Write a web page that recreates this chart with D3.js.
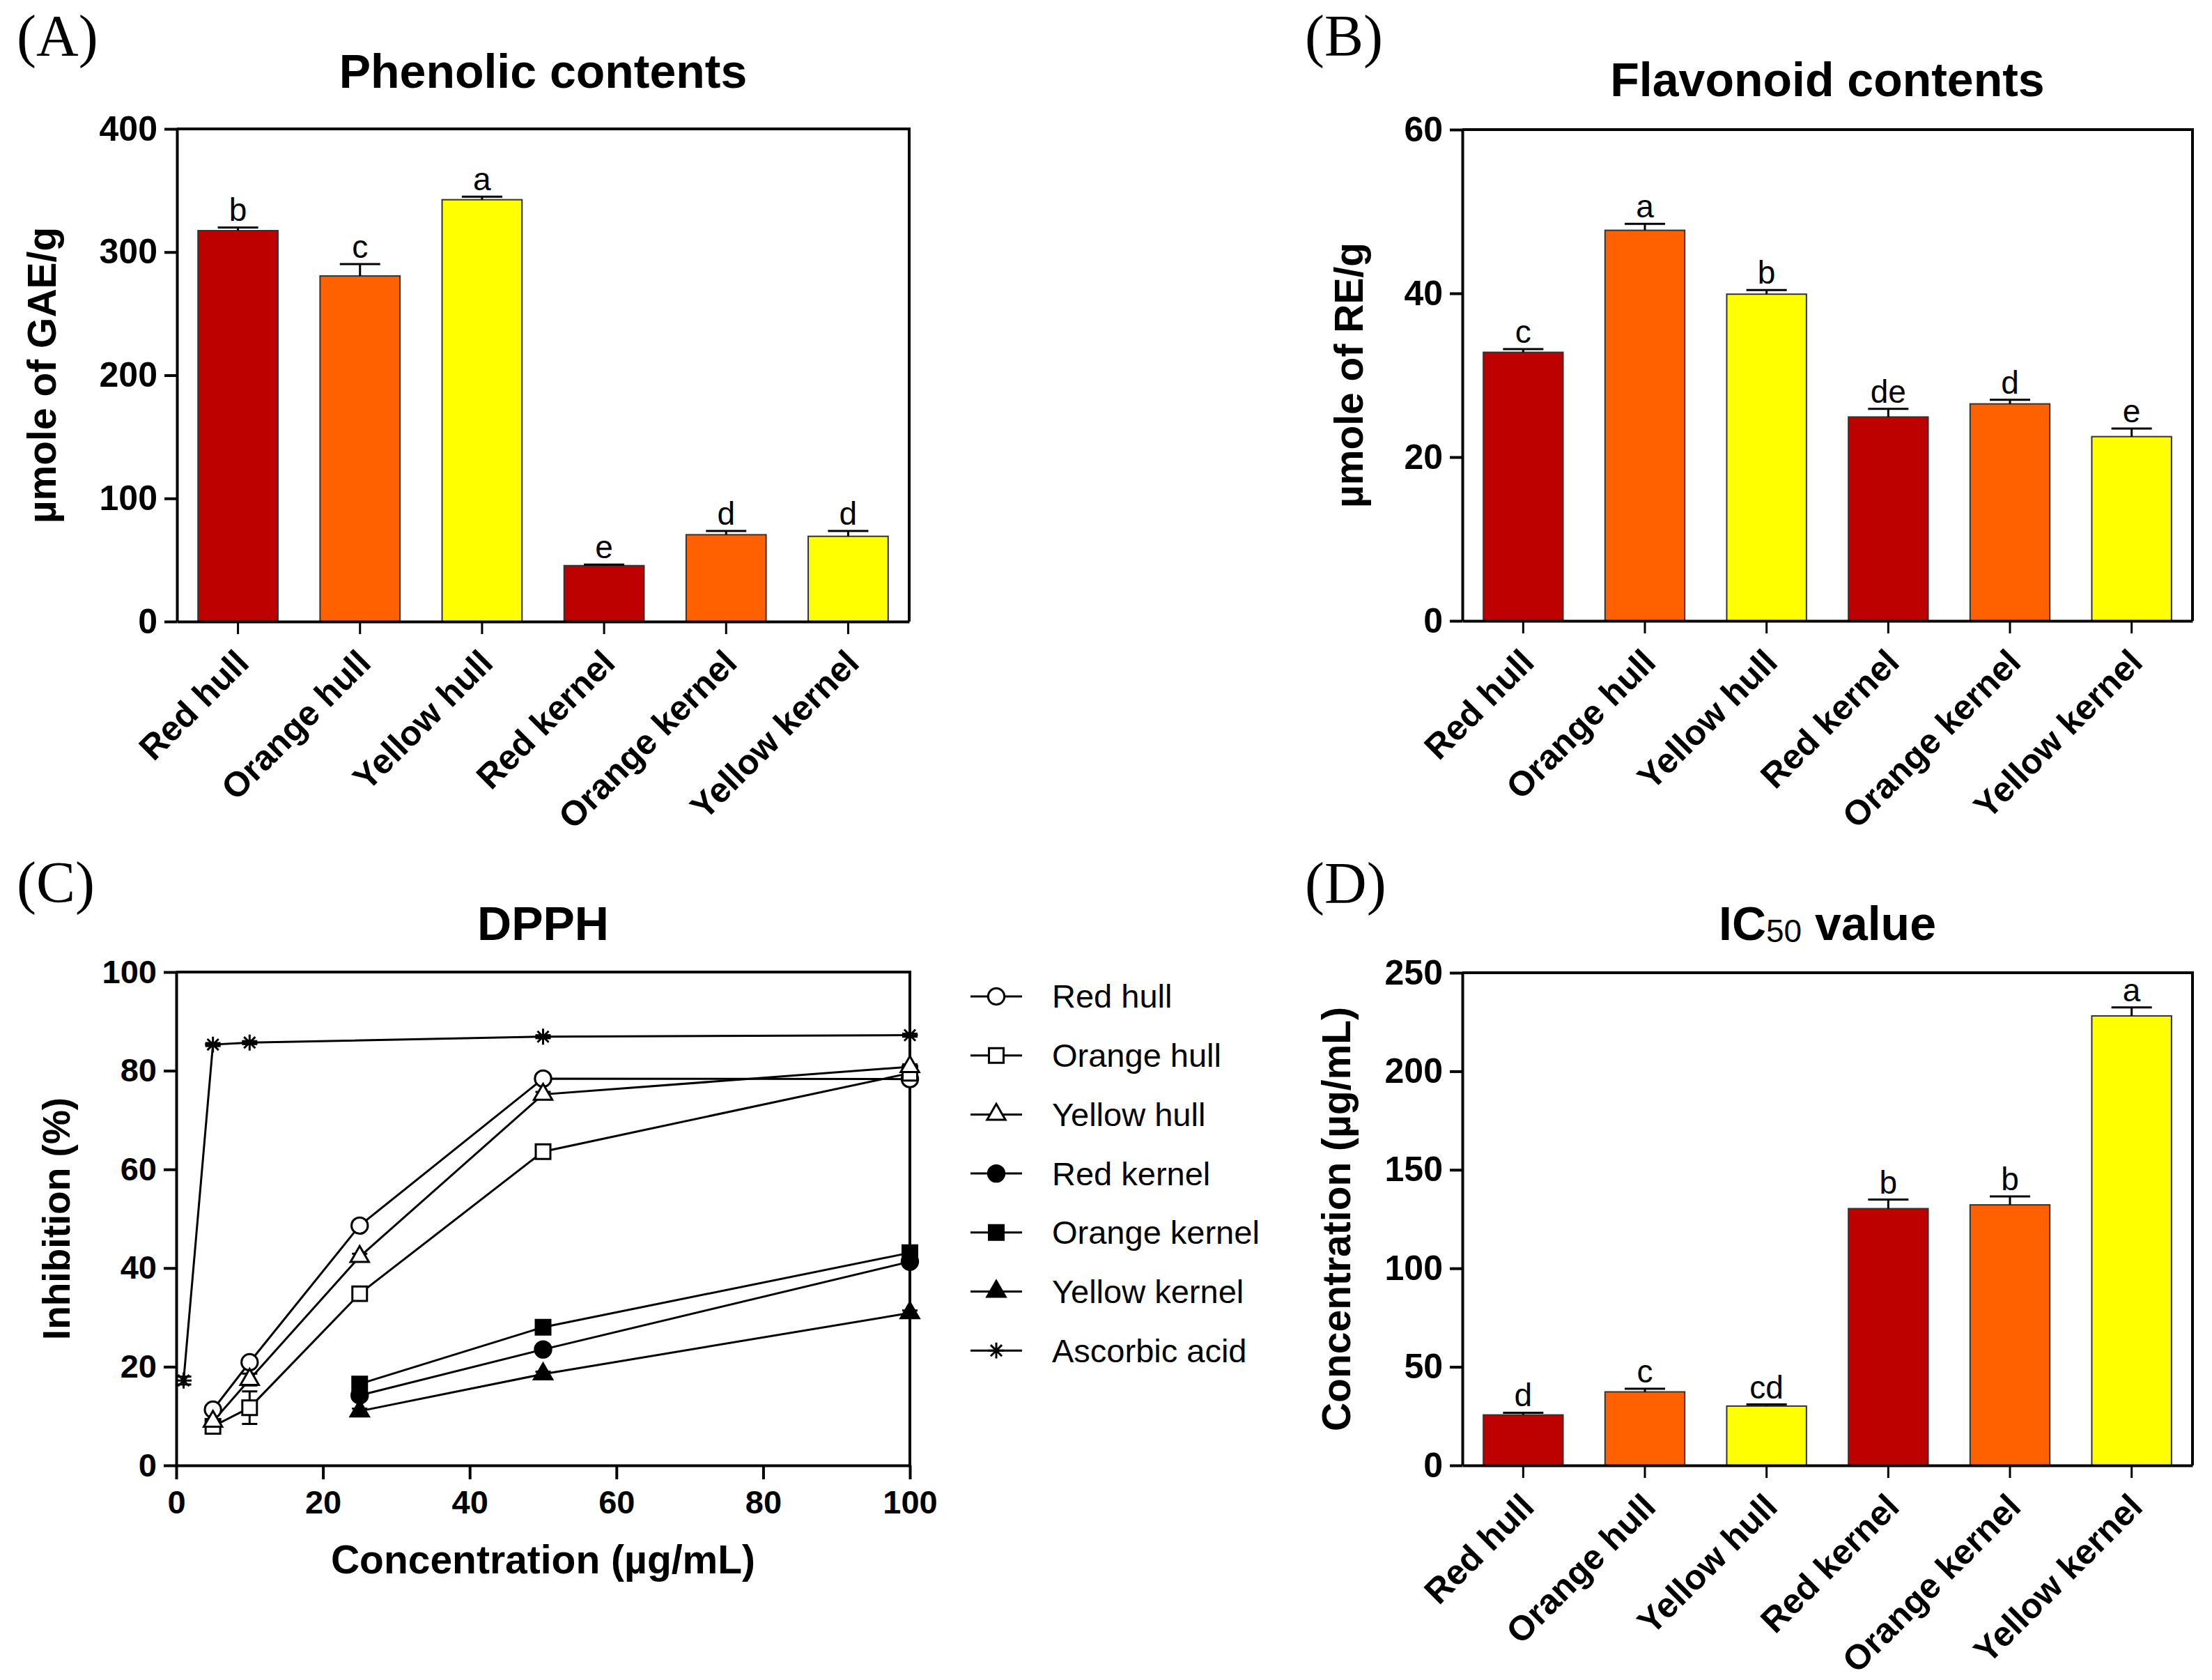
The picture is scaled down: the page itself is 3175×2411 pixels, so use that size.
<!DOCTYPE html>
<html>
<head>
<meta charset="utf-8">
<script src="https://cdn.jsdelivr.net/npm/d3@7"></script>
<style>
  body { margin: 0; background: #fff; }
  text { font-family: "Liberation Sans", Arial, sans-serif; fill: #000; }
</style>
</head>
<body>
<script>
    var width = 3175;
    var height = 2411;

    // bar charts (A), (B), (D)
    var categories = ['Red hull', 'Orange hull', 'Yellow hull', 'Red kernel', 'Orange kernel', 'Yellow kernel'];
    var barColors = ['#bd0000', '#ff6000', '#ffff00', '#bd0000', '#ff6000', '#ffff00'];

    var phenolic = [317.4, 280.6, 342.5, 45.4, 70.5, 69.2];
    var phenolicErr = [2.6, 9.6, 2.5, 0.9, 3.0, 4.3];
    var phenolicLetters = ['b', 'c', 'a', 'e', 'd', 'd'];
    var phenolicTicks = [0, 100, 200, 300, 400];

    var flavonoid = [32.8, 47.7, 39.9, 24.9, 26.5, 22.5];
    var flavonoidErr = [0.4, 0.8, 0.5, 1.0, 0.5, 1.0];
    var flavonoidLetters = ['c', 'a', 'b', 'de', 'd', 'e'];
    var flavonoidTicks = [0, 20, 40, 60];

    var ic50 = [25.6, 37.3, 30.1, 130.3, 132.2, 228.1];
    var ic50Err = [1.1, 1.6, 0.8, 4.6, 4.3, 4.3];
    var ic50Letters = ['d', 'c', 'cd', 'b', 'b', 'a'];
    var ic50Ticks = [0, 50, 100, 150, 200, 250];

    // DPPH line chart (C)
    var dpphSeries = ['Red hull', 'Orange hull', 'Yellow hull', 'Red kernel', 'Orange kernel', 'Yellow kernel', 'Ascorbic acid'];
    var hullConc = [5, 10, 25, 50, 100];
    var kernelConc = [25, 50, 100];
    var ascorbicConc = [1, 5, 10, 50, 100];
    var redHull = [11.3, 20.9, 48.6, 78.4, 78.3];
    var orangeHull = [7.9, 11.7, 34.8, 63.6, 79.5];
    var yellowHull = [8.9, 17.4, 42.3, 75.2, 80.8];
    var redKernel = [14.2, 23.5, 41.3];
    var orangeKernel = [16.5, 28.0, 43.1];
    var yellowKernel = [11.0, 18.5, 30.9];
    var ascorbic = [17.2, 85.3, 85.7, 86.9, 87.2];
    var redHullErr = [0.5, 0.6, 0.6, 0.5, 0.5];
    var orangeHullErr = [0.6, 3.3, 0.8, 0.6, 0.5];
    var yellowHullErr = [0.5, 1.2, 0.6, 0.5, 0.5];
    var redKernelErr = [0.6, 0.5, 0.6];
    var orangeKernelErr = [0.6, 0.5, 0.6];
    var yellowKernelErr = [0.5, 0.5, 0.5];
    var ascorbicErr = [0.8, 0.3, 0.3, 0.3, 0.3];
    var dpphXTicks = [0, 20, 40, 60, 80, 100];
    var dpphYTicks = [0, 20, 40, 60, 80, 100];

    var svg = d3.select('body')
        .append('svg')
        .attr('width', width)
        .attr('height', height);

    var panelLetter = (x, y, label) => {
        svg.append('text')
            .attr('x', x)
            .attr('y', y)
            .style('font-family', '"Liberation Serif", "Times New Roman", serif')
            .style('font-size', '84px')
            .text(label);
    };

    var styleAxis = (g, tickWidth) => {
        g.select('.domain').attr('stroke', '#000').attr('stroke-width', 4);
        g.selectAll('.tick line').attr('stroke', '#000').attr('stroke-width', tickWidth);
    };

    // frame: top and right edges of the plot box
    var frame = (x0, x1, y0, y1) => {
        svg.append('path')
            .attr('d', 'M' + x0 + ',' + y0 + 'H' + x1 + 'V' + y1)
            .attr('fill', 'none')
            .attr('stroke', '#000')
            .attr('stroke-width', 4);
    };

    // 8-spoke asterisk like the GraphPad marker
    var star = {
        draw: (context, size) => {
            var r = Math.sqrt(size) / 2;
            for (var k = 0; k < 4; k++) {
                var a = k * Math.PI / 4;
                context.moveTo(-r * Math.cos(a), -r * Math.sin(a));
                context.lineTo(r * Math.cos(a), r * Math.sin(a));
            }
        }
    };

    var barPanel = (p) => {
        var xScale = d3.scaleBand()
            .domain(categories)
            .range([p.left, p.right])
            .paddingInner(0.345)
            .paddingOuter(0.1725);

        var yScale = d3.scaleLinear()
            .domain([0, p.ticks[p.ticks.length - 1]])
            .range([p.bottom, p.top]);

        frame(p.left, p.right, p.top, p.bottom);

        svg.append('g')
            .selectAll('rect')
            .data(p.values)
            .enter()
            .append('rect')
            .attr('x', (d, i) => xScale(categories[i]))
            .attr('y', (d) => yScale(d))
            .attr('width', xScale.bandwidth())
            .attr('height', (d) => p.bottom - yScale(d))
            .attr('fill', (d, i) => barColors[i])
            .attr('stroke', '#333')
            .attr('stroke-width', 2);

        // error bars (upper half only)
        var err = svg.append('g')
            .attr('stroke', '#000')
            .attr('stroke-width', 3)
            .selectAll('g')
            .data(p.values)
            .enter()
            .append('g')
            .attr('transform', (d, i) => 'translate(' + (xScale(categories[i]) + xScale.bandwidth() / 2) + ',0)');
        err.append('line')
            .attr('x1', 0).attr('x2', 0)
            .attr('y1', (d) => yScale(d))
            .attr('y2', (d, i) => yScale(d + p.err[i]));
        err.append('line')
            .attr('x1', -29).attr('x2', 29)
            .attr('y1', (d, i) => yScale(d + p.err[i]))
            .attr('y2', (d, i) => yScale(d + p.err[i]));

        svg.append('g')
            .selectAll('text')
            .data(p.letters)
            .enter()
            .append('text')
            .attr('x', (d, i) => xScale(categories[i]) + xScale.bandwidth() / 2)
            .attr('y', (d, i) => yScale(p.values[i] + p.err[i]) - 9)
            .attr('text-anchor', 'middle')
            .style('font-size', '46px')
            .text((d) => d);

        var xAxis = d3.axisBottom(xScale).tickSize(18).tickSizeOuter(0);
        var gx = svg.append('g')
            .attr('transform', 'translate(0,' + p.bottom + ')')
            .call(xAxis);
        styleAxis(gx, 3);
        gx.selectAll('.tick text')
            .attr('x', 0)
            .attr('y', 0)
            .attr('dy', '0.35em')
            .attr('text-anchor', 'end')
            .attr('transform', 'translate(6,50) rotate(-45)')
            .style('font-size', '50px')
            .style('font-weight', 'bold');

        var yAxis = d3.axisLeft(yScale).tickValues(p.ticks).tickSize(18).tickPadding(10).tickSizeOuter(0);
        var gy = svg.append('g')
            .attr('transform', 'translate(' + p.left + ',0)')
            .call(yAxis);
        styleAxis(gy, 4);
        gy.selectAll('.tick text')
            .style('font-size', '50px')
            .style('font-weight', 'bold');

        svg.append('text')
            .attr('transform', 'translate(' + p.ylabelX + ',' + (p.top + p.bottom) / 2 + ') rotate(-90)')
            .attr('text-anchor', 'middle')
            .style('font-size', '57px')
            .style('font-weight', 'bold')
            .text(p.ylabel);

        return svg.append('text')
            .attr('x', (p.left + p.right) / 2)
            .attr('y', p.titleY)
            .attr('text-anchor', 'middle')
            .style('font-size', '68px')
            .style('font-weight', 'bold');
    };

    // (A)
    panelLetter(24, 80, '(A)');
    barPanel({
        left: 254, right: 1305, top: 185, bottom: 892,
        values: phenolic, err: phenolicErr, letters: phenolicLetters, ticks: phenolicTicks,
        ylabel: 'µmole of GAE/g', ylabelX: 80, titleY: 126
    }).text('Phenolic contents');

    // (B)
    panelLetter(1873, 80, '(B)');
    barPanel({
        left: 2099, right: 3147, top: 186, bottom: 891,
        values: flavonoid, err: flavonoidErr, letters: flavonoidLetters, ticks: flavonoidTicks,
        ylabel: 'µmole of RE/g', ylabelX: 1956, titleY: 138
    }).text('Flavonoid contents');

    // (D)
    panelLetter(1873, 1296, '(D)');
    var ic50Title = barPanel({
        left: 2099, right: 3147, top: 1396, bottom: 2103,
        values: ic50, err: ic50Err, letters: ic50Letters, ticks: ic50Ticks,
        ylabel: 'Concentration (µg/mL)', ylabelX: 1938, titleY: 1349
    });
    ic50Title.append('tspan').text('IC');
    ic50Title.append('tspan').attr('dy', 3).style('font-size', '46px').style('font-weight', 'normal').text('50');
    ic50Title.append('tspan').attr('dy', -3).text(' value');

    // (C) DPPH
    panelLetter(24, 1295, '(C)');
    var c = { left: 253, right: 1306, top: 1395, bottom: 2103 };

    var xLin = d3.scaleLinear().domain([0, 100]).range([c.left, c.right]);
    var yLin = d3.scaleLinear().domain([0, 100]).range([c.bottom, c.top]);

    frame(c.left, c.right, c.top, c.bottom);

    var seriesData = [
        { x: hullConc, y: redHull, e: redHullErr, shape: d3.symbolCircle, size: 430, fill: '#fff' },
        { x: hullConc, y: orangeHull, e: orangeHullErr, shape: d3.symbolSquare, size: 440, fill: '#fff' },
        { x: hullConc, y: yellowHull, e: yellowHullErr, shape: d3.symbolTriangle, size: 300, fill: '#fff' },
        { x: kernelConc, y: redKernel, e: redKernelErr, shape: d3.symbolCircle, size: 430, fill: '#000' },
        { x: kernelConc, y: orangeKernel, e: orangeKernelErr, shape: d3.symbolSquare, size: 440, fill: '#000' },
        { x: kernelConc, y: yellowKernel, e: yellowKernelErr, shape: d3.symbolTriangle, size: 300, fill: '#000' },
        { x: ascorbicConc, y: ascorbic, e: ascorbicErr, shape: star, size: 520, fill: 'none' }
    ];

    var line = d3.line()
        .x((d) => xLin(d[0]))
        .y((d) => yLin(d[1]));

    var pts = (s) => s.x.map((v, i) => [v, s.y[i], s.e[i]]);

    svg.append('g')
        .selectAll('path')
        .data(seriesData)
        .enter()
        .append('path')
        .attr('d', (s) => line(pts(s)))
        .attr('fill', 'none')
        .attr('stroke', '#000')
        .attr('stroke-width', 3);

    seriesData.forEach((s) => {
        var g = svg.append('g');
        var eb = g.selectAll('.eb')
            .data(pts(s))
            .enter()
            .append('g')
            .attr('stroke', '#000')
            .attr('stroke-width', 3);
        eb.append('line')
            .attr('x1', (d) => xLin(d[0])).attr('x2', (d) => xLin(d[0]))
            .attr('y1', (d) => yLin(d[1] - d[2])).attr('y2', (d) => yLin(d[1] + d[2]));
        eb.append('line')
            .attr('x1', (d) => xLin(d[0]) - 11).attr('x2', (d) => xLin(d[0]) + 11)
            .attr('y1', (d) => yLin(d[1] + d[2])).attr('y2', (d) => yLin(d[1] + d[2]));
        eb.append('line')
            .attr('x1', (d) => xLin(d[0]) - 11).attr('x2', (d) => xLin(d[0]) + 11)
            .attr('y1', (d) => yLin(d[1] - d[2])).attr('y2', (d) => yLin(d[1] - d[2]));
        g.selectAll('.mk')
            .data(pts(s))
            .enter()
            .append('path')
            .attr('transform', (d) => 'translate(' + xLin(d[0]) + ',' + yLin(d[1]) + ')')
            .attr('d', d3.symbol().type(s.shape).size(s.size))
            .attr('fill', s.fill)
            .attr('stroke', '#000')
            .attr('stroke-width', 3);
    });

    var gcx = svg.append('g')
        .attr('transform', 'translate(0,' + c.bottom + ')')
        .call(d3.axisBottom(xLin).tickValues(dpphXTicks).tickSize(20).tickPadding(16).tickSizeOuter(0));
    styleAxis(gcx, 4);
    gcx.selectAll('.tick text').style('font-size', '47px').style('font-weight', 'bold');

    var gcy = svg.append('g')
        .attr('transform', 'translate(' + c.left + ',0)')
        .call(d3.axisLeft(yLin).tickValues(dpphYTicks).tickSize(18).tickPadding(10).tickSizeOuter(0));
    styleAxis(gcy, 4);
    gcy.selectAll('.tick text').style('font-size', '47px').style('font-weight', 'bold');

    svg.append('text')
        .attr('x', (c.left + c.right) / 2)
        .attr('y', 1349)
        .attr('text-anchor', 'middle')
        .style('font-size', '68px')
        .style('font-weight', 'bold')
        .text('DPPH');

    svg.append('text')
        .attr('x', (c.left + c.right) / 2)
        .attr('y', 2258)
        .attr('text-anchor', 'middle')
        .style('font-size', '57px')
        .style('font-weight', 'bold')
        .text('Concentration (µg/mL)');

    svg.append('text')
        .attr('transform', 'translate(100,' + (c.top + c.bottom) / 2 + ') rotate(-90)')
        .attr('text-anchor', 'middle')
        .style('font-size', '55px')
        .style('font-weight', 'bold')
        .text('Inhibition (%)');

    // legend
    var legend = svg.append('g')
        .selectAll('g')
        .data(seriesData)
        .enter()
        .append('g')
        .attr('transform', (d, i) => 'translate(1393,' + (1430 + i * 84.7) + ')');
    legend.append('line')
        .attr('x1', 0).attr('x2', 74)
        .attr('stroke', '#000')
        .attr('stroke-width', 3);
    legend.append('path')
        .attr('transform', 'translate(37,0)')
        .attr('d', (s) => d3.symbol().type(s.shape).size(s.size)())
        .attr('fill', (s) => s.fill)
        .attr('stroke', '#000')
        .attr('stroke-width', 3);
    legend.append('text')
        .attr('x', 117)
        .attr('dy', '0.35em')
        .style('font-size', '47px')
        .text((d, i) => dpphSeries[i]);
</script>
</body>
</html>
